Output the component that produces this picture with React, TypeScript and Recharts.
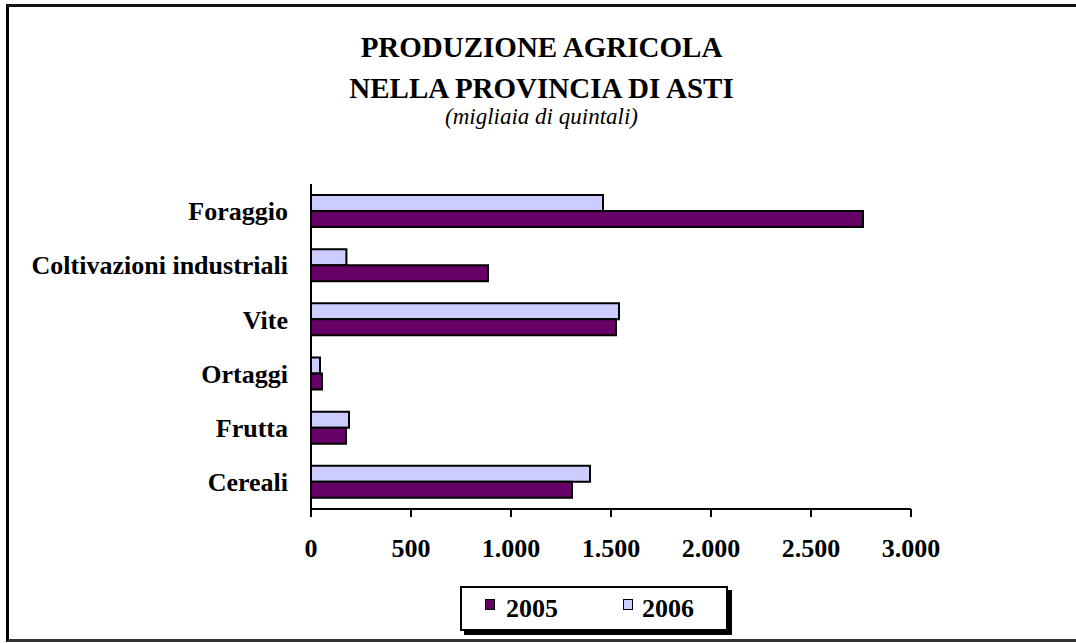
import { BarChart, Bar, XAxis, YAxis } from "recharts"

const categories = ["Foraggio", "Coltivazioni industriali", "Vite", "Ortaggi", "Frutta", "Cereali"]
const values2005 = [2760, 885, 1525, 55, 175, 1305]
const values2006 = [1460, 177, 1540, 45, 190, 1395]
const xTicks = [0, 500, 1000, 1500, 2000, 2500, 3000]

const seriesNames = ["2005", "2006"]
const seriesColors = ["#660066", "#CCCCFF"]

const FONT = '"Liberation Serif", "Times New Roman", serif'

const data = categories.map((name, i) => ({
  name,
  y2005: values2005[i],
  y2006: values2006[i],
}))

// italian thousands separator: 1.000
const formatTick = (v: number) => String(v).replace(/\B(?=(\d{3})+(?!\d))/g, ".")

const legendPos = [
  { box: 23, text: 44 },
  { box: 161, text: 180 },
]

export default function App() {
  return (
    <div style={{ position: "absolute", left: 0, top: 0, width: 1076, height: 643, fontFamily: FONT }}>
      {/* outer frame */}
      <div
        style={{
          position: "absolute",
          left: 6,
          top: 4,
          width: 1070,
          height: 638,
          boxSizing: "border-box",
          borderLeft: "3px solid #000",
          borderTop: "3px solid #111",
          borderBottom: "3px solid #333",
        }}
      />

      <div style={{ position: "absolute", left: 0, top: 0 }}>
        <BarChart
          width={1076}
          height={643}
          data={data}
          layout="vertical"
          margin={{ top: 184, right: 165, bottom: 94, left: 11 }}
          barSize={16}
          barGap={0}
        >
          <XAxis
            type="number"
            domain={[0, 3000]}
            ticks={xTicks}
            tickFormatter={formatTick}
            height={40}
            axisLine={{ stroke: "#000", strokeWidth: 2 }}
            tickLine={{ stroke: "#000", strokeWidth: 2 }}
            tickSize={8}
            tickMargin={22}
            tick={{ fill: "#000", fontSize: 26, fontWeight: "bold", fontFamily: FONT }}
          />
          <XAxis
            xAxisId="top"
            type="number"
            orientation="top"
            domain={[0, 3000]}
            height={0}
            tick={false}
            tickLine={false}
            axisLine={{ stroke: "#000", strokeWidth: 2 }}
          />
          <YAxis
            type="category"
            dataKey="name"
            width={300}
            axisLine={{ stroke: "#000", strokeWidth: 2 }}
            tickLine={false}
            tickSize={0}
            tickMargin={23}
            interval={0}
            tick={{ fill: "#000", fontSize: 26, fontWeight: "bold", fontFamily: FONT }}
          />
          <YAxis
            yAxisId="right"
            type="category"
            dataKey="name"
            orientation="right"
            width={0}
            tick={false}
            tickLine={false}
            axisLine={{ stroke: "#000", strokeWidth: 2 }}
          />
          <Bar dataKey="y2006" fill={seriesColors[1]} stroke="#000" strokeWidth={2} isAnimationActive={false} />
          <Bar dataKey="y2005" fill={seriesColors[0]} stroke="#000" strokeWidth={2} isAnimationActive={false} />
        </BarChart>
      </div>

      {/* titles */}
      <div
        style={{
          position: "absolute",
          left: 7,
          width: 1069,
          top: 27,
          textAlign: "center",
          fontWeight: "bold",
          fontSize: 29,
          lineHeight: "41px",
          color: "#000",
        }}
      >
        <div>PRODUZIONE AGRICOLA</div>
        <div>NELLA PROVINCIA DI ASTI</div>
      </div>
      <div
        style={{
          position: "absolute",
          left: 7,
          width: 1069,
          top: 103,
          textAlign: "center",
          fontStyle: "italic",
          fontSize: 23,
          lineHeight: "28px",
          color: "#000",
        }}
      >
        (migliaia di quintali)
      </div>

      {/* legend */}
      <div
        style={{
          position: "absolute",
          left: 460,
          top: 586,
          width: 268,
          height: 45,
          boxSizing: "border-box",
          border: "2px solid #000",
          boxShadow: "4px 4px 0 #000",
          background: "#fff",
        }}
      >
        {seriesNames.map((name, i) => (
          <div key={name}>
            <span
              style={{
                position: "absolute",
                left: legendPos[i].box,
                top: 11,
                width: 8,
                height: 9,
                border: "1.5px solid #000",
                background: seriesColors[i],
              }}
            />
            <span
              style={{
                position: "absolute",
                left: legendPos[i].text,
                top: 6,
                fontWeight: "bold",
                fontSize: 26,
                lineHeight: "30px",
              }}
            >
              {name}
            </span>
          </div>
        ))}
      </div>
    </div>
  )
}
